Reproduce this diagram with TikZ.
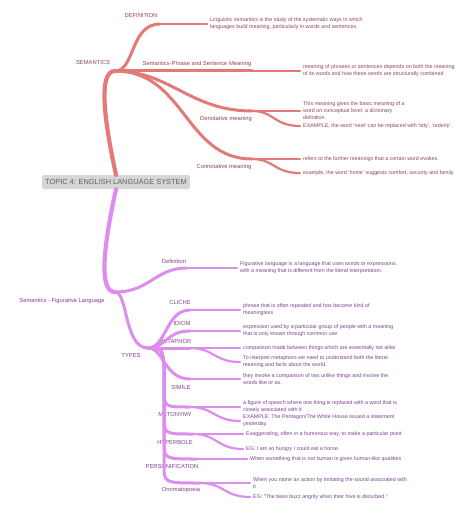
\documentclass[tikz,border=0pt]{standalone}
\usepackage{fontspec}
\setmainfont{Liberation Sans}
\usetikzlibrary{positioning}
\definecolor{semred}{HTML}{E27B78}
\definecolor{semredtxt}{HTML}{8A4850}
\definecolor{figpur}{HTML}{DB8EEC}
\definecolor{figpurtxt}{HTML}{7B4288}
\tikzset{
centretopic/.style={fill=black!16,rounded corners=1.5pt,text=black!62,font=\fontsize{7.4}{8}\selectfont,minimum height=14pt,inner xsep=3pt},
sublabel/.style={font=\fontsize{5.8}{7}\selectfont,inner sep=1pt},
leaftext/.style={anchor=west,align=left,font=\fontsize{5.35}{7}\selectfont,inner sep=1pt},
trunk/.style={line width=4.2pt,line cap=round},
branch/.style={line width=3pt,line cap=round},
twig/.style={line width=2.2pt,line cap=round,shorten >=2pt}
}
\begin{document}
\begin{tikzpicture}[x=1pt,y=-1pt]
\useasboundingbox[fill=white] (0,0) rectangle (474,516);
% centre
\node[centretopic] (topic) at (116,182) {TOPIC 4: ENGLISH LANGUAGE SYSTEM};
% semantics
\coordinate (sem) at (115,71);
\node[sublabel,text=semredtxt] (semt) at (93,63) {SEMANTICS};
\draw[trunk,semred] (topic.north) .. controls (104,120) and (98,71) .. (sem);
\coordinate (def) at (160,24);
\coordinate (phr) at (252,71);
\coordinate (den) at (252,111);
\coordinate (con) at (252,159);
\node[sublabel,text=semredtxt] (deft) at (141,16) {DEFINITION};
\node[sublabel,text=semredtxt] (phrt) at (197,64) {Semantics-Phrase and Sentence Meaning};
\node[sublabel,text=semredtxt] (dent) at (226,119) {Denotative meaning};
\node[sublabel,text=semredtxt] (cont) at (224,167) {Connotative meaning};
\draw[branch,semred] (sem) .. controls (135,71) and (130,24) .. (def);
\draw[branch,semred] (sem) -- (phr);
\draw[branch,semred] (sem) .. controls (170,71) and (190,111) .. (den);
\draw[branch,semred] (sem) .. controls (185,71) and (185,159) .. (con);
\node[leaftext,text=semredtxt] (deftx) at (209,24) {Linguistic semantics is the study of the systematic ways in which\\languages build meaning, particularly in words and sentences.};
\node[leaftext,text=semredtxt] (phrtx) at (302,71) {meaning of phrases or sentences depends on both the meaning\\of its words and how these words are structurally combined};
\node[leaftext,text=semredtxt] (den1) at (302,111) {This meaning gives the basic meaning of a\\word on conceptual level, a dictionary\\definition.};
\node[leaftext,text=semredtxt] (den2) at (302,126) {EXAMPLE, the word `neat' can be replaced with `tidy', `orderly'.};
\node[leaftext,text=semredtxt] (con1) at (302,159) {refers to the further meanings that a certain word evokes.};
\node[leaftext,text=semredtxt] (con2) at (302,173) {example, the word `home' suggests comfort, security and family};
\draw[twig,semred] (def) -- (deftx);
\draw[twig,semred] (phr) -- (phrtx);
\draw[twig,semred] (den) -- (den1);
\draw[twig,semred] (den) .. controls (274,111) and (274,126) .. (den2.west);
\draw[twig,semred] (con) -- (con1);
\draw[twig,semred] (con) .. controls (274,159) and (274,173) .. (con2.west);
% figurative language
\coordinate (fig) at (115,292);
\node[sublabel,text=figpurtxt] (figt) at (62,301) {Semantics - Figurative Language};
\draw[trunk,figpur] (topic.south) .. controls (104,244) and (98,292) .. (fig);
\coordinate (fdef) at (187,268);
\coordinate (types) at (148,348);
\node[sublabel,text=figpurtxt] (fdeft) at (174,261) {Definition};
\node[sublabel,text=figpurtxt] (typest) at (131,355) {TYPES};
\draw[branch,figpur] (fig) .. controls (150,292) and (155,268) .. (fdef);
\draw[branch,figpur] (fig) .. controls (128,292) and (124,348) .. (types);
\node[leaftext,text=figpurtxt] (fdeftx) at (239,268) {Figurative language is a language that uses words or expressions\\with a meaning that is different from the literal interpretation.};
\draw[twig,figpur] (fdef) -- (fdeftx);
% types
\coordinate (cli) at (190,310);
\coordinate (idi) at (190,331);
\coordinate (met) at (190,348);
\coordinate (sim) at (190,379);
\coordinate (mty) at (190,407);
\coordinate (hyp) at (193,434);
\coordinate (per) at (197,459);
\coordinate (ono) at (200,483);
\node[sublabel,text=figpurtxt] (clit) at (180,302) {CLICHE};
\node[sublabel,text=figpurtxt] (idit) at (182,323) {IDIOM};
\node[sublabel,text=figpurtxt] (mett) at (175,341) {METAPHOR};
\node[sublabel,text=figpurtxt] (simt) at (181,387) {SIMILE};
\node[sublabel,text=figpurtxt] (mtyt) at (175,414) {METONYMY};
\node[sublabel,text=figpurtxt] (hypt) at (175,442) {HYPERBOLE};
\node[sublabel,text=figpurtxt] (pert) at (172,466) {PERSONIFICATION};
\node[sublabel,text=figpurtxt] (onot) at (181,490) {Onomatopoeia};
\draw[branch,figpur] (types) .. controls (166,348) and (166,310) .. (cli);
\draw[branch,figpur] (types) .. controls (166,348) and (166,331) .. (idi);
\draw[branch,figpur] (types) -- (met);
\draw[branch,figpur] (types) .. controls (164,348) and (164,379) .. (sim);
\draw[branch,figpur] (types) .. controls (162,348) .. (164,366) -- (164,389) .. controls (164,407) .. (mty);
\draw[branch,figpur] (types) .. controls (162,348) .. (164,366) -- (164,416) .. controls (164,434) .. (hyp);
\draw[branch,figpur] (types) .. controls (162,348) .. (164,366) -- (164,441) .. controls (164,459) .. (per);
\draw[branch,figpur] (types) .. controls (162,348) .. (164,366) -- (164,465) .. controls (164,483) .. (ono);
\node[leaftext,text=figpurtxt] (clitx) at (242,310) {phrase that is often repeated and has become kind of\\meaningless};
\node[leaftext,text=figpurtxt] (iditx) at (242,331) {expression used by a particular group of people with a meaning\\that is only known through common use};
\node[leaftext,text=figpurtxt] (met1) at (242,348) {comparison made between things which are essentially not alike};
\node[leaftext,text=figpurtxt] (met2) at (242,362) {To interpret metaphors we need to understand both the literal\\meaning and facts about the world.};
\node[leaftext,text=figpurtxt] (simtx) at (242,379) {they invoke a comparison of two unlike things and involve the\\words like or as.};
\node[leaftext,text=figpurtxt] (mty1) at (242,407) {a figure of speech where one thing is replaced with a word that is\\closely associated with it};
\node[leaftext,text=figpurtxt] (mty2) at (242,421) {EXAMPLE: The Pentagon/The White House issued a statement\\yesterday.};
\node[leaftext,text=figpurtxt] (hyp1) at (245,434) {Exaggerating, often in a humorous way, to make a particular point};
\node[leaftext,text=figpurtxt] (hyp2) at (245,449) {EG: I am so hungry I could eat a horse.};
\node[leaftext,text=figpurtxt] (pertx) at (249,459) {When something that is not human is given human-like qualities};
\node[leaftext,text=figpurtxt] (ono1) at (252,483) {When you name an action by imitating the sound associated with\\it};
\node[leaftext,text=figpurtxt] (ono2) at (252,497) {EG: ``The bees buzz angrily when their hive is disturbed.''};
\draw[twig,figpur] (cli) -- (clitx);
\draw[twig,figpur] (idi) -- (iditx);
\draw[twig,figpur] (met) -- (met1);
\draw[twig,figpur] (met) .. controls (214,348) and (214,362) .. (met2.west);
\draw[twig,figpur] (sim) -- (simtx);
\draw[twig,figpur] (mty) -- (mty1);
\draw[twig,figpur] (mty) .. controls (214,407) and (214,421) .. (mty2.west);
\draw[twig,figpur] (hyp) -- (hyp1);
\draw[twig,figpur] (hyp) .. controls (217,434) and (217,449) .. (hyp2.west);
\draw[twig,figpur] (per) -- (pertx);
\draw[twig,figpur] (ono) -- (ono1);
\draw[twig,figpur] (ono) .. controls (224,483) and (224,497) .. (ono2.west);
\end{tikzpicture}
\end{document}
